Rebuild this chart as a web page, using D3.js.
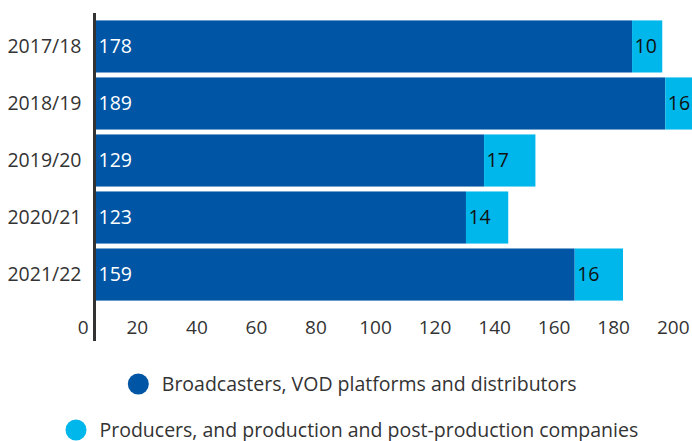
<!DOCTYPE html>
<html>
<head>
<meta charset="utf-8">
<script src="https://cdn.jsdelivr.net/npm/d3@7"></script>
<style>
  html, body { margin: 0; padding: 0; background: #fff; }
  svg { display: block; font-family: "Open Sans", sans-serif; }
</style>
</head>
<body>
<svg id="chart" width="692" height="441"></svg>
<script>
// Years on the vertical axis
const years = ["2017/18", "2018/19", "2019/20", "2020/21", "2021/22"];
// Broadcasters, VOD platforms and distributors
const broadcasters = [178, 189, 129, 123, 159];
// Producers, production and post-production companies
const producers = [10, 16, 17, 14, 16];
// Horizontal axis tick values
const tickValues = [0, 20, 40, 60, 80, 100, 120, 140, 160, 180, 200];
const seriesNames = [
  "Broadcasters, VOD platforms and distributors",
  "Producers, and production and post-production companies"
];
const colors = ["#0055a4", "#00b7ec"];

const svg = d3.select("#chart");

// Scale for the bars
const x = d3.scaleLinear().domain([0, 200]).range([94.5, 698.5]);
// Scale for the tick labels under the plot
const xTicks = d3.scaleLinear().domain([0, 200]).range([77.3, 672.7]);
const y = d3.scaleBand().domain(years).range([15.5, 305.5]).padding(5 / 58);

const rows = years.map((yr, i) => ({ year: yr, a: broadcasters[i], b: producers[i] }));

const g = svg.append("g");

// Broadcaster segments
g.selectAll("rect.a").data(rows).join("rect")
  .attr("class", "a")
  .attr("x", x(0))
  .attr("y", d => y(d.year))
  .attr("width", d => x(d.a) - x(0))
  .attr("height", y.bandwidth())
  .attr("fill", colors[0]);

// Producer segments
g.selectAll("rect.b").data(rows).join("rect")
  .attr("class", "b")
  .attr("x", d => x(d.a))
  .attr("y", d => y(d.year))
  .attr("width", d => x(d.a + d.b) - x(d.a))
  .attr("height", y.bandwidth())
  .attr("fill", colors[1]);

// Value labels
g.selectAll("text.va").data(rows).join("text")
  .attr("class", "va")
  .attr("x", x(0) + 4)
  .attr("y", d => y(d.year) + y.bandwidth() / 2)
  .attr("dy", "0.35em")
  .attr("fill", "#fff")
  .attr("font-size", 19.5)
  .text(d => d.a);

g.selectAll("text.vb").data(rows).join("text")
  .attr("class", "vb")
  .attr("x", d => x(d.a) + 2.5)
  .attr("y", d => y(d.year) + y.bandwidth() / 2)
  .attr("dy", "0.35em")
  .attr("fill", "#111")
  .attr("font-size", 19.5)
  .text(d => d.b);

// Category labels
const yAxis = svg.append("g")
  .attr("transform", `translate(${x(0) - 13},0)`)
  .call(d3.axisLeft(y).tickSize(0).tickPadding(0));
yAxis.select(".domain").remove();
yAxis.selectAll("text")
  .attr("font-family", "Open Sans, sans-serif")
  .attr("font-size", 19.5)
  .attr("fill", "#333");

// Tick labels
const xAxis = svg.append("g")
  .attr("transform", "translate(0,327)")
  .call(d3.axisBottom(xTicks).tickValues(tickValues).tickSize(0).tickPadding(0));
xAxis.select(".domain").remove();
xAxis.selectAll("text")
  .attr("font-family", "Open Sans, sans-serif")
  .attr("font-size", 19)
  .attr("fill", "#333")
  .attr("dy", "0.35em")
  .attr("dx", d => d === 0 ? 5.4 : 0);

// Vertical axis line
svg.append("line")
  .attr("x1", x(0)).attr("x2", x(0))
  .attr("y1", 13).attr("y2", 341)
  .attr("stroke", "#333")
  .attr("stroke-width", 3);

// Legend
const legendPos = [
  { cx: 138.3, cy: 384 },
  { cx: 76, cy: 430 }
];
const legend = svg.append("g").selectAll("g").data(seriesNames).join("g")
  .attr("transform", (d, i) => `translate(${legendPos[i].cx},${legendPos[i].cy})`);
legend.append("circle")
  .attr("r", 10.5)
  .attr("fill", (d, i) => colors[i]);
legend.append("text")
  .attr("x", 23.5)
  .attr("y", 0)
  .attr("dy", "0.35em")
  .attr("font-size", 19.5)
  .attr("fill", "#333")
  .text(d => d);
</script>
</body>
</html>
